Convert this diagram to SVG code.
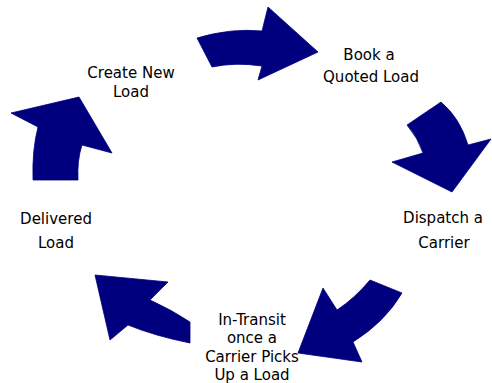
<svg xmlns="http://www.w3.org/2000/svg" width="492" height="383" viewBox="0 0 492 383">
<style>
.arr{fill:#00007f;stroke:#00007f;stroke-width:0.8;stroke-linejoin:miter}
text{font-family:"DejaVu Sans",Verdana,sans-serif;font-size:15px;fill:#000;text-anchor:middle}
</style>
<rect width="492" height="383" fill="#fff"/>
<g id="connectors">
<path class="arr" d="M197,38 Q230,28 262,31 L268,7 L318,52 L258,80 L262,66 Q235,62 212,67 Z"/>
<path class="arr" d="M441,102 Q460,118 468,145 L491,139 L452,192 L392,162 L423,153 Q418,138 407,125 Z"/>
<path class="arr" d="M370,280 L402,293 Q385,322 353,342 L362,362 L298,353 L323,288 L337,310 Q355,298 370,280 Z"/>
<path class="arr" d="M95,275 L168,282 L150,300 Q172,310 190,322 L190,343 Q155,336 128,325 L110,340 Z"/>
<path class="arr" d="M79,97 L112,153 L82,145 Q77,160 78,180 L33,180 Q32,150 38,127 L11,113 Z"/>
</g>
<g id="create">
<text x="131" y="78">Create New</text>
<text x="131" y="97">Load</text>
</g>
<g id="book">
<text x="369" y="60">Book a</text>
<text x="371" y="82">Quoted Load</text>
</g>
<g id="dispatch">
<text x="443" y="223">Dispatch a</text>
<text x="444" y="248">Carrier</text>
</g>
<g id="transit">
<text x="252" y="325">In-Transit</text>
<text x="252" y="343">once a</text>
<text x="252" y="362">Carrier Picks</text>
<text x="252" y="380">Up a Load</text>
</g>
<g id="delivered">
<text x="56" y="224">Delivered</text>
<text x="56" y="248">Load</text>
</g>
</svg>
